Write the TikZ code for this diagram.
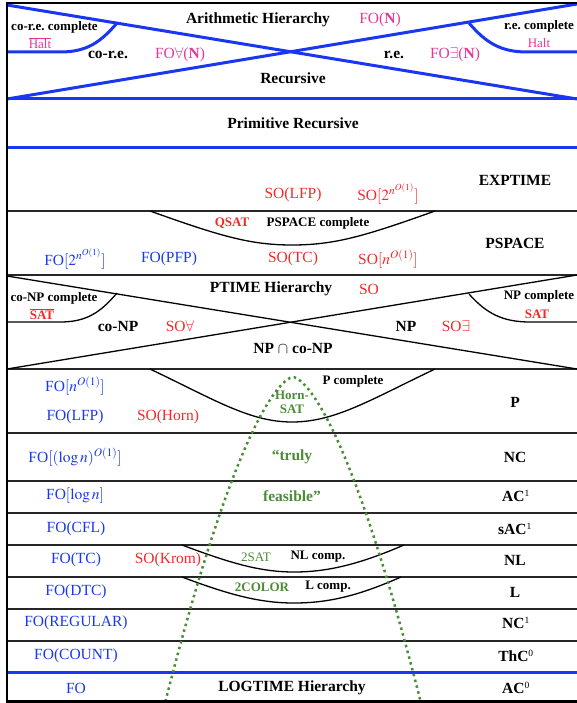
\documentclass[tikz,border=0pt]{standalone}
\usepackage{mathptmx}
\usepackage{fontspec}
\setmainfont{Liberation Serif}
\definecolor{cblue}{RGB}{25,55,240}
\definecolor{cred}{RGB}{245,40,40}
\definecolor{cpink}{RGB}{232,55,150}
\definecolor{cgreen}{RGB}{75,140,55}
\newcommand{\supidx}[1]{\textsuperscript{\fontsize{9.5}{10}\selectfont\mdseries #1}}
\begin{document}
\begin{tikzpicture}[x=1pt,y=-1pt,
  every node/.style={inner sep=0pt},
  bigb/.style={font=\fontsize{15.5}{17}\selectfont\bfseries},
  smallb/.style={font=\fontsize{13}{14}\selectfont\bfseries},
  fo/.style={font=\fontsize{15.5}{17}\selectfont,text=cblue},
  so/.style={font=\fontsize{15.5}{17}\selectfont,text=cred},
  ar/.style={font=\fontsize{15.5}{17}\selectfont,text=cpink},
  arsm/.style={font=\fontsize{13}{14}\selectfont,text=cpink},
  sosm/.style={font=\fontsize{13}{14}\selectfont\bfseries,text=cred},
  gsm/.style={font=\fontsize{13}{14}\selectfont,text=cgreen},
  gsmb/.style={font=\fontsize{13}{14}\selectfont\bfseries,text=cgreen},
  gbig/.style={font=\fontsize{15.5}{17}\selectfont\bfseries,text=cgreen},
  frame/.style={line width=2.6pt,black},
  rulel/.style={line width=1.7pt,black!85},
  thin/.style={line width=1.3pt,black},
  bline/.style={line width=3pt,cblue},
  gdots/.style={line width=2.5pt,cgreen,dash pattern=on 2.5pt off 3.5pt}]
\useasboundingbox (0,0) rectangle (577,703);

% ---------- arithmetic hierarchy (blue) ----------
\draw[bline] (7,5) -- (577,99);
\draw[bline] (7,99) -- (577,4);
\draw[bline] (7,99) -- (577,99);
\draw[bline] (7,148) -- (577,148);
\draw[bline] (117,23) .. controls (100,43) and (86,52) .. (60,52) -- (7,52);
\draw[bline] (469,23) .. controls (486,43) and (501,52) .. (527,52) -- (577,52);

% ---------- horizontal rules ----------
\foreach \yy in {211,275,369,433,481,513,545,577,609,641}
  \draw[rulel] (7,\yy) -- (577,\yy);
\draw[bline] (7,672) -- (577,672);

% ---------- polynomial hierarchy ----------
\draw[thin] (7,276) -- (577,369);
\draw[thin] (7,369) -- (577,275);
\draw[thin] (117,293) .. controls (100,313) and (86,322) .. (60,322) -- (7,322);
\draw[thin] (469,294) .. controls (486,313) and (502,322) .. (530,322) -- (577,322);

% ---------- completeness bowls ----------
\draw[thin] (150,211) .. controls (220,236) and (250,245) .. (292,245)
            .. controls (335,245) and (365,236) .. (435,211);
\draw[thin] (150,369) .. controls (215,400) and (250,422) .. (292,422)
            .. controls (335,422) and (370,400) .. (435,369);
\draw[thin] (182,545) .. controls (230,563) and (260,572) .. (294,572)
            .. controls (330,572) and (362,563) .. (404,545);
\draw[thin] (182,577) .. controls (230,595) and (260,603) .. (294,603)
            .. controls (330,603) and (360,595) .. (401,577);

% ---------- "truly feasible" region ----------
\begin{scope}
  \clip (7,3) rectangle (577,703);
  \draw[gdots] plot[domain=-127.6:127.6,samples=120,smooth]
    ({293+\x},{377+(abs(\x)/3.06)^1.55});
\end{scope}

% ---------- outer frame ----------
\draw[frame] (5.7,3) -- (577,3);
\draw[frame] (7,1.7) -- (7,703);
\draw[frame] (7,701.5) -- (577,701.5);

% ---------- labels: arithmetic hierarchy ----------
\node[bigb] (arith) at (258,20) {Arithmetic Hierarchy};
\node[ar] (foN) at (380,20) {FO(\textbf{N})};
\node[smallb] (corecomp) at (54.5,27) {co-r.e.\ complete};
\node[arsm] (halt1) at (40,43) {$\overline{\mbox{Halt}}$};
\node[bigb] (core) at (108,55) {co-r.e.};
\node[ar] (foA) at (180,55) {FO$\forall$(\textbf{N})};
\node[bigb] (re) at (394,55) {r.e.};
\node[ar] (foE) at (455,55) {FO$\exists$(\textbf{N})};
\node[smallb] (recomp) at (539,26) {r.e.\ complete};
\node[arsm] (halt2) at (539,43) {Halt};
\node[bigb] (rec) at (293,78) {Recursive};
\node[bigb] (primrec) at (293,123) {Primitive Recursive};

% ---------- EXPTIME / PSPACE ----------
\node[bigb] (exptime) at (515,180) {EXPTIME};
\node[so] (solfp) at (293,195) {SO(LFP)};
\node[so] (soexp) at (388,194) {SO$[2^{n^{O(1)}}]$};
\node[sosm] (qsat) at (232,223) {QSAT};
\node[smallb] (pscomp) at (318,223) {PSPACE complete};
\node[bigb] (pspace) at (515,243) {PSPACE};
\node[fo] (foexp) at (75,259) {FO$[2^{n^{O(1)}}]$};
\node[fo] (fopfp) at (169,259) {FO(PFP)};
\node[so] (sotc) at (293,259) {SO(TC)};
\node[so] (sopoly) at (388,259) {SO$[n^{O(1)}]$};

% ---------- polynomial-time hierarchy ----------
\node[bigb] (ph) at (271,289) {PTIME Hierarchy};
\node[so] (so) at (369,289) {SO};
\node[smallb] (conpcomp) at (54,298) {co-NP complete};
\node[sosm] (sat1) at (42,314) {$\overline{\mbox{SAT}}$};
\node[smallb] (npcomp) at (539,296) {NP complete};
\node[sosm] (sat2) at (537,314) {SAT};
\node[bigb] (conp) at (118,326) {co-NP};
\node[so] (soA) at (180,326) {SO$\forall$};
\node[bigb] (np) at (406,326) {NP};
\node[so] (soE) at (456,326) {SO$\exists$};
\node[bigb] (npconp) at (293,348) {NP $\cap$ co-NP};

% ---------- P and below ----------
\node[fo] (fopoly) at (75,386) {FO$[n^{O(1)}]$};
\node[smallb] (pcomp) at (353,381) {P complete};
\node[gsmb,align=center] (hornsat) at (292,402) {Horn-\\SAT};
\node[bigb] (p) at (515,402) {P};
\node[fo] (folfp) at (75,417) {FO(LFP)};
\node[so] (sohorn) at (168,417) {SO(Horn)};

\node[fo] (fopolylog) at (75,457) {FO$[(\log n)^{O(1)}]$};
\node[gbig] (truly) at (292,457) {``truly};
\node[bigb] (nc) at (515,457) {NC};

\node[fo] (folog) at (75,496) {FO$[\log n]$};
\node[gbig] (feasible) at (292,496) {feasible''};
\node[bigb] (ac1) at (516,496) {AC\supidx{1}};

\node[fo] (focfl) at (76,529) {FO(CFL)};
\node[bigb] (sac1) at (515,529) {sAC\supidx{1}};

\node[fo] (fotc) at (76,560) {FO(TC)};
\node[so] (sokrom) at (168,560) {SO(Krom)};
\node[gsm] (twosat) at (256,557) {2SAT};
\node[smallb] (nlcomp) at (318,557) {NL comp.};
\node[bigb] (nl) at (515,560) {NL};

\node[fo] (fodtc) at (76,592) {FO(DTC)};
\node[gsmb] (twocol) at (262,587) {2COLOR};
\node[smallb] (lcomp) at (328,587) {L comp.};
\node[bigb] (l) at (515,592) {L};

\node[fo] (foreg) at (76,623) {FO(REGULAR)};
\node[bigb] (nc1) at (516,623) {NC\supidx{1}};

\node[fo] (focount) at (76,656) {FO(COUNT)};
\node[bigb] (thc0) at (516,656) {ThC\supidx{0}};

\node[fo] (fo) at (76,688) {FO};
\node[bigb] (logh) at (292,688) {LOGTIME Hierarchy};
\node[bigb] (ac0) at (516,688) {AC\supidx{0}};
\end{tikzpicture}
\end{document}
